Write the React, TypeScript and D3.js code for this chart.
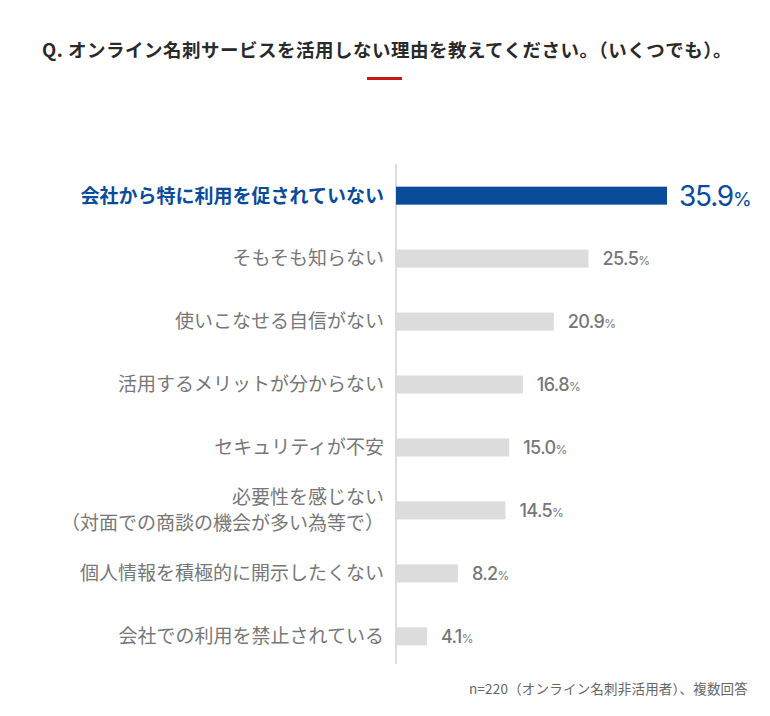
import React from "react";
import * as d3 from "d3";

const categories: string[][] = [
  ["会社から特に利用を促されていない"],
  ["そもそも知らない"],
  ["使いこなせる自信がない"],
  ["活用するメリットが分からない"],
  ["セキュリティが不安"],
  ["必要性を感じない", "（対面での商談の機会が多い為等で）"],
  ["個人情報を積極的に開示したくない"],
  ["会社での利用を禁止されている"],
];
const values: number[] = [35.9, 25.5, 20.9, 16.8, 15.0, 14.5, 8.2, 4.1];
const title = "Q. オンライン名刺サービスを活用しない理由を教えてください。（いくつでも）。";
const footnote = "n=220（オンライン名刺非活用者）、複数回答";

const W = 770;
const H = 716;
const FONT = "'Noto Sans CJK JP', 'Noto Sans', sans-serif";
const NUMFONT = "Inter, 'Noto Sans', sans-serif";

export default function App() {
  const x0 = 396;
  const x = d3.scaleLinear().domain([0, 35.9]).range([x0, 667]);
  const y = d3
    .scaleBand<number>()
    .domain(d3.range(values.length))
    .range([164, 668])
    .paddingInner(0.714)
    .paddingOuter(0.36);
  const bh = 18;
  return (
    <div style={{ margin: -8 }}>
      <svg width={W} height={H} style={{ display: "block", background: "#fff" }}>
        <text x={387} y={57} textAnchor="middle" fontFamily={FONT} fontSize={18.5} fontWeight={700} fill="#2a2a2a" letterSpacing={0.5}>
          {title}
        </text>
        <rect x={367} y={77} width={35} height={3} fill="#c8161d" />
        <line x1={x0} x2={x0} y1={164} y2={664} stroke="#bbb" strokeWidth={1} />
        {values.map((v, i) => {
          const cy = (y(i) as number) + y.bandwidth() / 2;
          const first = i === 0;
          const lines = categories[i];
          const color = first ? "#0a4c9a" : "#777";
          return (
            <g key={i}>
              <rect x={x0} y={cy - bh / 2} width={x(v) - x0} height={bh} fill={first ? "#0a4c9a" : "#dcdcdc"} />
              {lines.map((l, j) => (
                <text
                  key={j}
                  x={384}
                  y={cy + (j - (lines.length - 1) / 2) * 26}
                  dy="0.36em"
                  textAnchor="end"
                  fontFamily={FONT}
                  fontSize={19}
                  fontWeight={first ? 700 : 400}
                  fill={color}
                >
                  {l}
                </text>
              ))}
              <text
                x={x(v) + (first ? 12 : 14)}
                y={cy}
                dy="0.36em"
                fontFamily={NUMFONT}
                fontSize={first ? 28 : 18}
                fontWeight={first ? 400 : 500}
                fill={first ? "#0a4c9a" : "#777"}
                letterSpacing={first ? -1.2 : -0.6}
              >
                {v.toFixed(1)}
                <tspan fontSize={first ? 19 : 12} fontWeight={400}>%</tspan>
              </text>
            </g>
          );
        })}
        <text x={748} y={694} textAnchor="end" fontFamily={FONT} fontSize={13.5} fill="#666" letterSpacing={0.2}>
          {footnote}
        </text>
      </svg>
    </div>
  );
}
